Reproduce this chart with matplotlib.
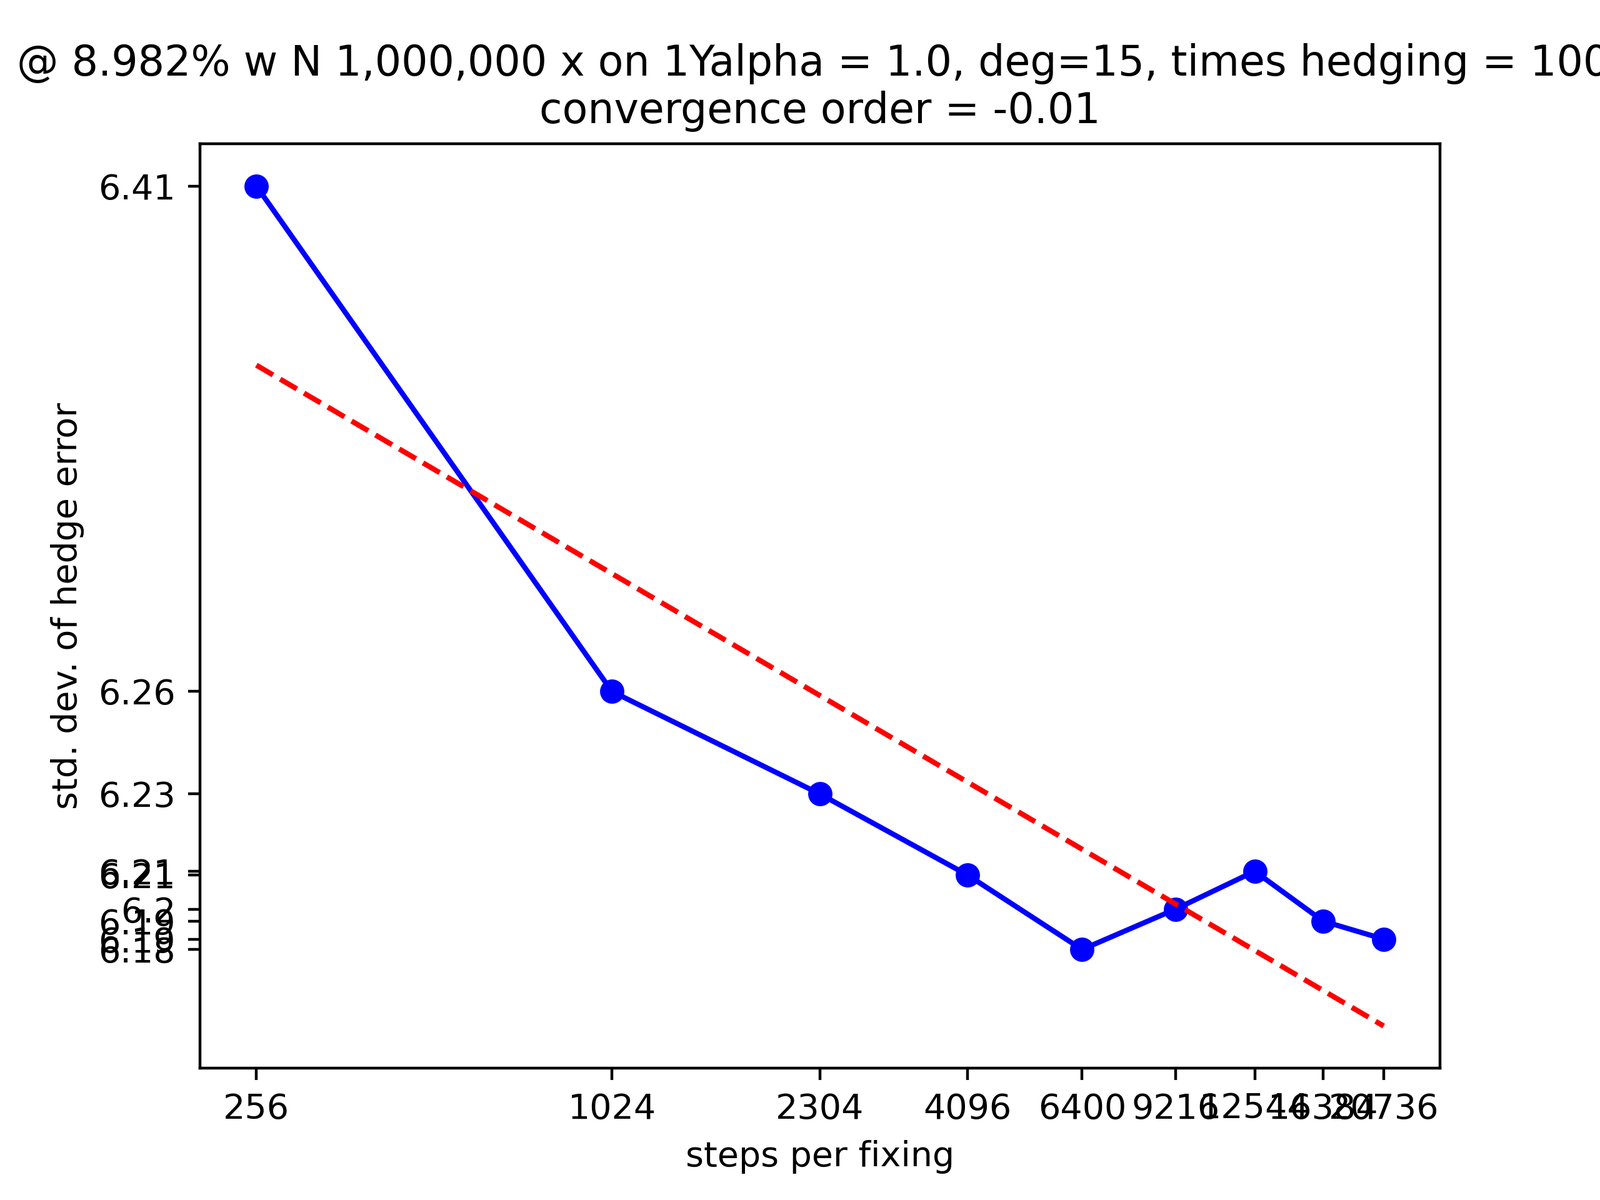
import numpy as np
import matplotlib
matplotlib.use("Agg")
from matplotlib import pyplot as plt
from matplotlib.ticker import NullLocator

steps = [256, 1024, 2304, 4096, 6400, 9216, 12544, 16384, 20736]
std_err = [6.41, 6.26, 6.23, 6.2064, 6.1848, 6.1965, 6.2075, 6.193, 6.1878]

# fit on log-log to get the convergence order
coef = np.polyfit(np.log(steps), np.log(std_err), 1)
fit = np.exp(np.polyval(coef, np.log(steps)))

fig, ax = plt.subplots(figsize=(6.4, 4.8), dpi=400)
ax.plot(steps, std_err, "b-o")
ax.plot(steps, fit, "r--")
ax.set_xscale("log")
ax.set_yscale("log")
ax.xaxis.set_minor_locator(NullLocator())
ax.yaxis.set_minor_locator(NullLocator())
ax.set_xticks(steps)
ax.set_xticklabels([str(s) for s in steps])
ax.set_yticks(std_err)
ax.set_yticklabels([str(round(v, 2)) for v in std_err])
ax.set_xlabel("steps per fixing")
ax.set_ylabel("std. dev. of hedge error")
ax.set_title("@ 8.982% w N 1,000,000 x on 1Yalpha = 1.0, deg=15, times hedging = 100,\n"
             "convergence order = {:.2f}".format(coef[0]))
plt.savefig("out.png")
